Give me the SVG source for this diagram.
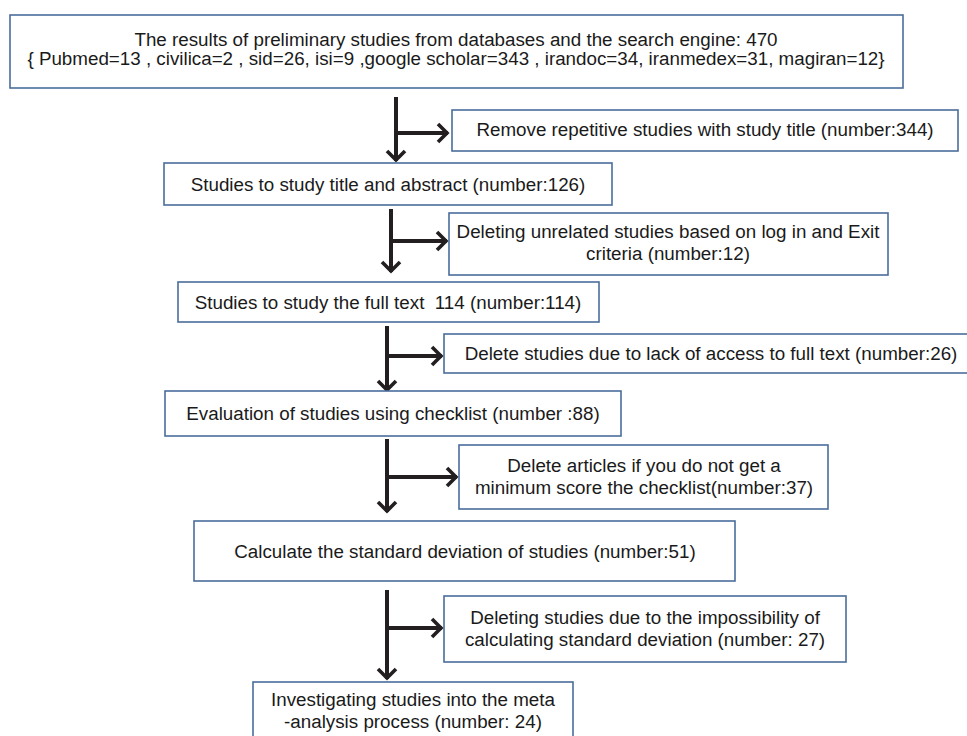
<svg xmlns="http://www.w3.org/2000/svg" width="967" height="736" viewBox="0 0 967 736">
<style>
.box{fill:#fff;stroke:#4A6D9C;stroke-width:1.6}
.t{font-family:"Liberation Sans",Arial,sans-serif;font-size:18.8px;fill:#1a1a1a;text-anchor:middle}
.c{fill:none;stroke:#231F20;stroke-width:4}
</style>
<defs>
<marker id="ah" viewBox="-12 -12 14 24" markerWidth="14" markerHeight="24" refX="0" refY="0" orient="auto" markerUnits="userSpaceOnUse">
<path d="M-10,-9 L-1,0 L-10,9" fill="none" stroke="#231F20" stroke-width="3.6"/>
</marker>
</defs>
<rect width="967" height="736" fill="#fff"/>
<g id="connectors">
<path class="c" d="M396,97 V161" marker-end="url(#ah)"/>
<path class="c" d="M396,133 H448" marker-end="url(#ah)"/>
<path class="c" d="M391,209 V272" marker-end="url(#ah)"/>
<path class="c" d="M391,241 H447" marker-end="url(#ah)"/>
<path class="c" d="M387,326 V391" marker-end="url(#ah)"/>
<path class="c" d="M387,356 H442" marker-end="url(#ah)"/>
<path class="c" d="M387,439 V512" marker-end="url(#ah)"/>
<path class="c" d="M387,477 H457" marker-end="url(#ah)"/>
<path class="c" d="M387,590 V679" marker-end="url(#ah)"/>
<path class="c" d="M387,628 H442" marker-end="url(#ah)"/>
</g>
<g id="n1"><rect class="box" x="10" y="15" width="893" height="73"/>
<text class="t" x="456" y="46">The results of preliminary studies from databases and the search engine: 470</text>
<text class="t" x="456" y="65">{ Pubmed=13 , civilica=2 , sid=26, isi=9 ,google scholar=343 , irandoc=34, iranmedex=31, magiran=12}</text></g>
<g id="n2"><rect class="box" x="452" y="110" width="506" height="41"/>
<text class="t" x="705" y="136">Remove repetitive studies with study title (number:344)</text></g>
<g id="n3"><rect class="box" x="164" y="163" width="448" height="42"/>
<text class="t" x="388" y="191">Studies to study title and abstract (number:126)</text></g>
<g id="n4"><rect class="box" x="449" y="213" width="439" height="62"/>
<text class="t" x="668" y="238">Deleting unrelated studies based on log in and Exit</text>
<text class="t" x="668" y="260">criteria (number:12)</text></g>
<g id="n5"><rect class="box" x="178" y="282" width="421" height="40"/>
<text class="t" x="388" y="309" style="white-space:pre" xml:space="preserve">Studies to study the full text  114 (number:114)</text></g>
<g id="n6"><rect class="box" x="444" y="334" width="530" height="39"/>
<text class="t" x="711" y="360">Delete studies due to lack of access to full text (number:26)</text></g>
<g id="n7"><rect class="box" x="165" y="391" width="456" height="45"/>
<text class="t" x="393" y="420">Evaluation of studies using checklist (number :88)</text></g>
<g id="n8"><rect class="box" x="459" y="445" width="369" height="64"/>
<text class="t" x="644" y="472">Delete articles if you do not get a</text>
<text class="t" x="644" y="494">minimum score the checklist(number:37)</text></g>
<g id="n9"><rect class="box" x="194" y="521" width="541" height="60"/>
<text class="t" x="465" y="558">Calculate the standard deviation of studies (number:51)</text></g>
<g id="n10"><rect class="box" x="444" y="596" width="402" height="66"/>
<text class="t" x="645" y="624">Deleting studies due to the impossibility of</text>
<text class="t" x="645" y="646">calculating standard deviation (number: 27)</text></g>
<g id="n11"><rect class="box" x="253" y="682" width="320" height="60"/>
<text class="t" x="413" y="706">Investigating studies into the meta</text>
<text class="t" x="413" y="728">-analysis process (number: 24)</text></g>
</svg>
